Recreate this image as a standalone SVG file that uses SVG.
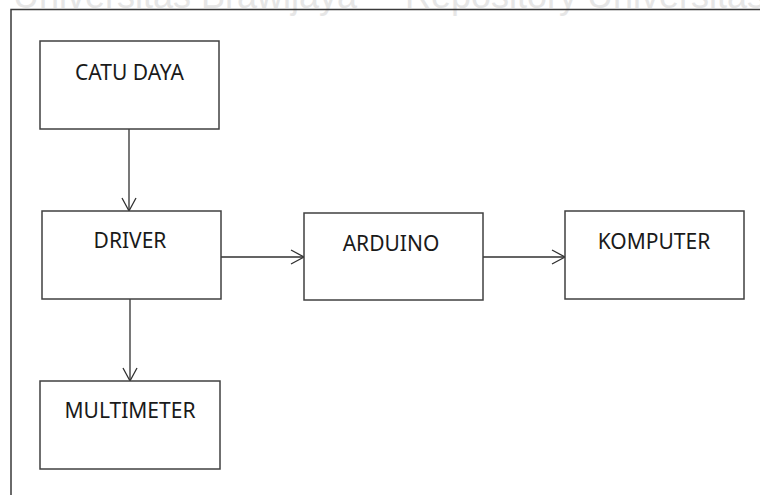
<svg xmlns="http://www.w3.org/2000/svg" width="760" height="495" viewBox="0 0 760 495">
  <style>
    .box { fill: #ffffff; stroke: #404040; stroke-width: 1.5; }
    .lbl { font-family: "Noto Sans", "Open Sans", sans-serif; font-size: 21px; fill: #1a1a1a; text-anchor: middle; }
    .wm { font-family: "Liberation Sans", Arial, sans-serif; font-size: 36px; fill: #e6e6e6; }
    .conn { stroke: #303030; stroke-width: 1.3; fill: none; }
    .frame { stroke: #3a3a3a; stroke-width: 1.5; fill: none; }
  </style>
  <defs>
    <marker id="arr" viewBox="0 0 20 20" refX="16" refY="10" markerWidth="20" markerHeight="20" markerUnits="userSpaceOnUse" orient="auto">
      <path d="M3,3 L16,10 L3,17" fill="none" stroke="#303030" stroke-width="1.3"/>
    </marker>
  </defs>
  <rect width="760" height="495" fill="#ffffff"/>
  <text class="wm" x="13" y="8">Universitas Brawijaya</text>
  <text class="wm" x="405" y="8">Repository Universitas</text>
  <path class="frame" d="M11,495 L11,9.5 L760,9.5"/>

  <g id="connectors">
    <line class="conn" x1="129" y1="129" x2="129" y2="211" marker-end="url(#arr)"/>
    <line class="conn" x1="221" y1="257" x2="304" y2="257" marker-end="url(#arr)"/>
    <line class="conn" x1="483" y1="257" x2="565" y2="257" marker-end="url(#arr)"/>
    <line class="conn" x1="130" y1="299" x2="130" y2="381" marker-end="url(#arr)"/>
  </g>

  <g id="catu-daya">
    <rect class="box" x="40" y="41" width="179" height="88"/>
    <text class="lbl" x="129.5" y="80">CATU DAYA</text>
  </g>
  <g id="driver">
    <rect class="box" x="42" y="211" width="179" height="88"/>
    <text class="lbl" x="130" y="248">DRIVER</text>
  </g>
  <g id="arduino">
    <rect class="box" x="304" y="213" width="179" height="87"/>
    <text class="lbl" x="391" y="251">ARDUINO</text>
  </g>
  <g id="komputer">
    <rect class="box" x="565" y="211" width="179" height="88"/>
    <text class="lbl" x="654" y="249">KOMPUTER</text>
  </g>
  <g id="multimeter">
    <rect class="box" x="40" y="381" width="180" height="88"/>
    <text class="lbl" x="130" y="418">MULTIMETER</text>
  </g>
</svg>
